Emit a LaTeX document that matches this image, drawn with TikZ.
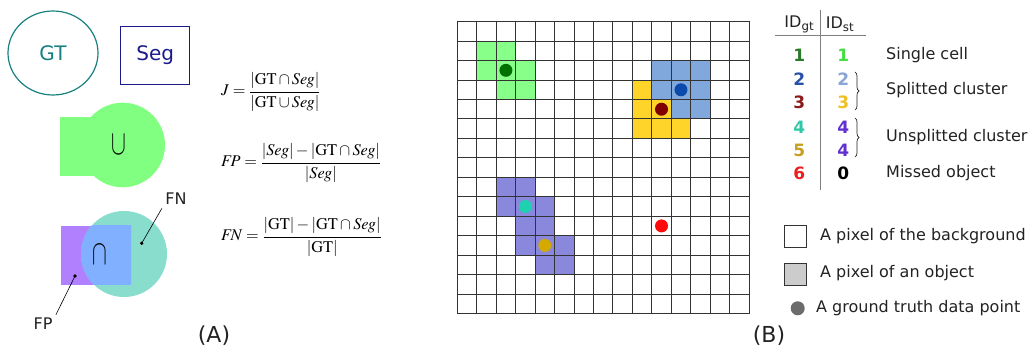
\documentclass[tikz,border=0pt]{standalone}
\usepackage{amsmath}
\usepackage{mathptmx}
\usepackage[no-math]{fontspec}
\setmainfont{DejaVu Sans}
\usetikzlibrary{decorations.pathreplacing,shapes.geometric}
\definecolor{gtc}{HTML}{178080}
\definecolor{segc}{HTML}{1A1A8A}
\definecolor{ugreen}{HTML}{80FF80}
\definecolor{ipurple}{HTML}{B080FF}
\definecolor{iteal}{HTML}{88DDCC}
\definecolor{iblue}{HTML}{80B0FF}
\definecolor{cgreen}{HTML}{88FF88}
\definecolor{cblue}{HTML}{80A8DC}
\definecolor{cyellow}{HTML}{FFD42A}
\definecolor{cpurple}{HTML}{8A88DD}
\definecolor{gridc}{HTML}{333333}
\definecolor{txt}{HTML}{222222}
\definecolor{dgreen}{HTML}{007000}
\definecolor{dblue}{HTML}{0A4AAA}
\definecolor{dred}{HTML}{800000}
\definecolor{dteal}{HTML}{1ED2B0}
\definecolor{dgold}{HTML}{D4AA00}
\definecolor{dredb}{HTML}{FF0A0A}
\definecolor{nA}{HTML}{2A7A2A}
\definecolor{nB}{HTML}{44DD44}
\definecolor{nC}{HTML}{2A4FAA}
\definecolor{nD}{HTML}{8AA4D4}
\definecolor{nE}{HTML}{8B1A1A}
\definecolor{nF}{HTML}{F0C020}
\definecolor{nG}{HTML}{30C8A8}
\definecolor{nH}{HTML}{6030D0}
\definecolor{nI}{HTML}{C8A020}
\definecolor{nJ}{HTML}{E82020}
\tikzset{
  lbl/.style={font=\fontsize{16}{19}\selectfont, text=txt, anchor=west, inner sep=0pt},
  num/.style={font=\fontsize{17}{20}\selectfont\bfseries, inner sep=0pt},
  frm/.style={font=\fontsize{16.3}{19}\selectfont, anchor=west, inner sep=0pt},
  dot/.style={circle, inner sep=0pt, minimum size=13pt},
  pin/.style={line width=0.6pt, black},
  setop/.style={font=\fontsize{26}{30}\selectfont, inner sep=0pt},
}
\begin{document}
\begin{tikzpicture}[x=1pt,y=-1pt]
\useasboundingbox (0,0) rectangle (1036,352);
% GT and Seg
\node[draw=gtc, line width=1.2pt, ellipse, minimum width=90pt, minimum height=84pt, inner sep=0pt,
  text=gtc, font=\fontsize{20}{24}\selectfont] (gt) at (53,53) {GT};
\node[draw=segc, line width=1.2pt, minimum width=69pt, minimum height=57.5pt, inner sep=0pt,
  text=segc, font=\fontsize{20}{24}\selectfont] (seg) at (155.3,55.5) {Seg};
% union
\fill[ugreen] (60,117.3) rectangle (110,175.7);
\fill[ugreen] (122.7,145) circle (42.3pt);
\node[setop] (un) at (119,145) {\scalebox{0.85}[1.35]{$\cup$}};
% intersection
\fill[ipurple] (61,225.7) rectangle (131,285);
\fill[iteal] (124,254) circle (43pt);
\begin{scope}
\clip (61,225.7) rectangle (131,285);
\fill[iblue] (124,254) circle (43pt);
\end{scope}
\node[setop] (in) at (100,255) {\scalebox{0.85}[1.35]{$\cap$}};
\node[font=\fontsize{16}{19}\selectfont, text=txt] (fn) at (176,199) {FN};
\node[font=\fontsize{16}{19}\selectfont, text=txt] (fp) at (43,324) {FP};
\coordinate (fnd) at (141.7,243.3);
\coordinate (fpd) at (75,276);
\fill (fnd) circle (1.8pt);
\fill (fpd) circle (1.8pt);
\draw[pin] (fnd) -- (fn.south west);
\draw[pin] (fpd) -- (fp.north east);
\node[font=\fontsize{22}{26}\selectfont, text=txt] (la) at (214,336) {(A)};
% formulas
\node[frm] (fj) at (221,92) {$J=\dfrac{|\mathrm{GT}\cap \mathit{Seg}|}{|\mathrm{GT}\cup \mathit{Seg}|}$};
\node[frm] (ffp) at (221,163) {$F\!P=\dfrac{|\mathit{Seg}|-|\mathrm{GT}\cap \mathit{Seg}|}{|\mathit{Seg}|}$};
\node[frm] (ffn) at (221,237) {$F\!N=\dfrac{|\mathrm{GT}|-|\mathrm{GT}\cap \mathit{Seg}|}{|\mathrm{GT}|}$};
% grid
\begin{scope}[shift={(457.3,21.7)}, x=19.45pt, y=-19.45pt]
  \foreach \c/\r in {1/1,2/1,1/2,2/2,3/2,2/3,3/3} \fill[cgreen] (\c,\r) rectangle ++(1,1);
  \foreach \c/\r in {10/2,11/2,12/2,10/3,11/3,12/3,11/4,12/4} \fill[cblue] (\c,\r) rectangle ++(1,1);
  \foreach \c/\r in {9/3,9/4,10/4,9/5,10/5,11/5} \fill[cyellow] (\c,\r) rectangle ++(1,1);
  \foreach \c/\r in {2/8,3/8,2/9,3/9,4/9,3/10,4/10,3/11,4/11,5/11,4/12,5/12} \fill[cpurple] (\c,\r) rectangle ++(1,1);
  \foreach \k in {0,...,15} {
    \draw[gridc, line width=0.9pt, line cap=rect] (\k,0) -- (\k,15);
    \draw[gridc, line width=0.9pt, line cap=rect] (0,\k) -- (15,\k);
  }
  \node[dot, fill=dgreen] (p1) at (2.5,2.5) {};
  \node[dot, fill=dblue] (p2) at (11.5,3.5) {};
  \node[dot, fill=dred] (p3) at (10.5,4.5) {};
  \node[dot, fill=dteal] (p4) at (3.5,9.5) {};
  \node[dot, fill=dgold] (p5) at (4.5,11.5) {};
  \node[dot, fill=dredb] (p6) at (10.5,10.5) {};
\end{scope}
% table
\node[font=\fontsize{16}{19}\selectfont, text=txt] (hg) at (799.3,24) {ID\textsubscript{gt}};
\node[font=\fontsize{16}{19}\selectfont, text=txt] (hs) at (840,24) {ID\textsubscript{st}};
\coordinate (vt) at (820.7,10);
\coordinate (vb) at (820.7,190);
\coordinate (hl) at (775,35);
\coordinate (hr) at (866,35);
\draw[gray, line width=0.8pt] (vt) -- (vb);
\draw[gray, line width=0.8pt] (hl) -- (hr);
\node[num, text=nA] (g1) at (799.3,55) {1};
\node[num, text=nC] (g2) at (799.3,79) {2};
\node[num, text=nE] (g3) at (799.3,102) {3};
\node[num, text=nG] (g4) at (799.3,127) {4};
\node[num, text=nI] (g5) at (799.3,150) {5};
\node[num, text=nJ] (g6) at (799.3,173) {6};
\node[num, text=nB] (s1) at (843.3,55) {1};
\node[num, text=nD] (s2) at (843.3,79) {2};
\node[num, text=nF] (s3) at (843.3,102) {3};
\node[num, text=nH] (s4) at (843.3,127) {4};
\node[num, text=nH] (s5) at (843.3,150) {4};
\node[num, text=black] (s6) at (843.3,173) {0};
\coordinate (b1t) at (855,72);
\coordinate (b1b) at (855,110);
\coordinate (b2t) at (855,118);
\coordinate (b2b) at (855,157);
\draw[txt, line width=0.7pt, decorate, decoration={brace, amplitude=4pt}] (b1t) -- (b1b);
\draw[txt, line width=0.7pt, decorate, decoration={brace, amplitude=4pt}] (b2t) -- (b2b);
\node[lbl] (t1) at (886,55) {Single cell};
\node[lbl] (t2) at (886,90) {Splitted cluster};
\node[lbl] (t3) at (886,137) {Unsplitted cluster};
\node[lbl] (t4) at (886,173) {Missed object};
% legend
\node[draw=gridc, line width=0.9pt, fill=white, minimum size=22pt, inner sep=0pt] (lw) at (795.5,236) {};
\node[draw=gridc, line width=0.9pt, fill=gray!40, minimum size=22pt, inner sep=0pt] (lg) at (795.5,274) {};
\node[circle, fill=gray!85!black, minimum size=14pt, inner sep=0pt] (ld) at (797.7,308.3) {};
\node[lbl] (lt1) at (820,236) {A pixel of the background};
\node[lbl] (lt2) at (820,273) {A pixel of an object};
\node[lbl] (lt3) at (816,308) {A ground truth data point};
\node[font=\fontsize{22}{26}\selectfont, text=txt] (lb) at (769,336) {(B)};
\end{tikzpicture}
\end{document}
